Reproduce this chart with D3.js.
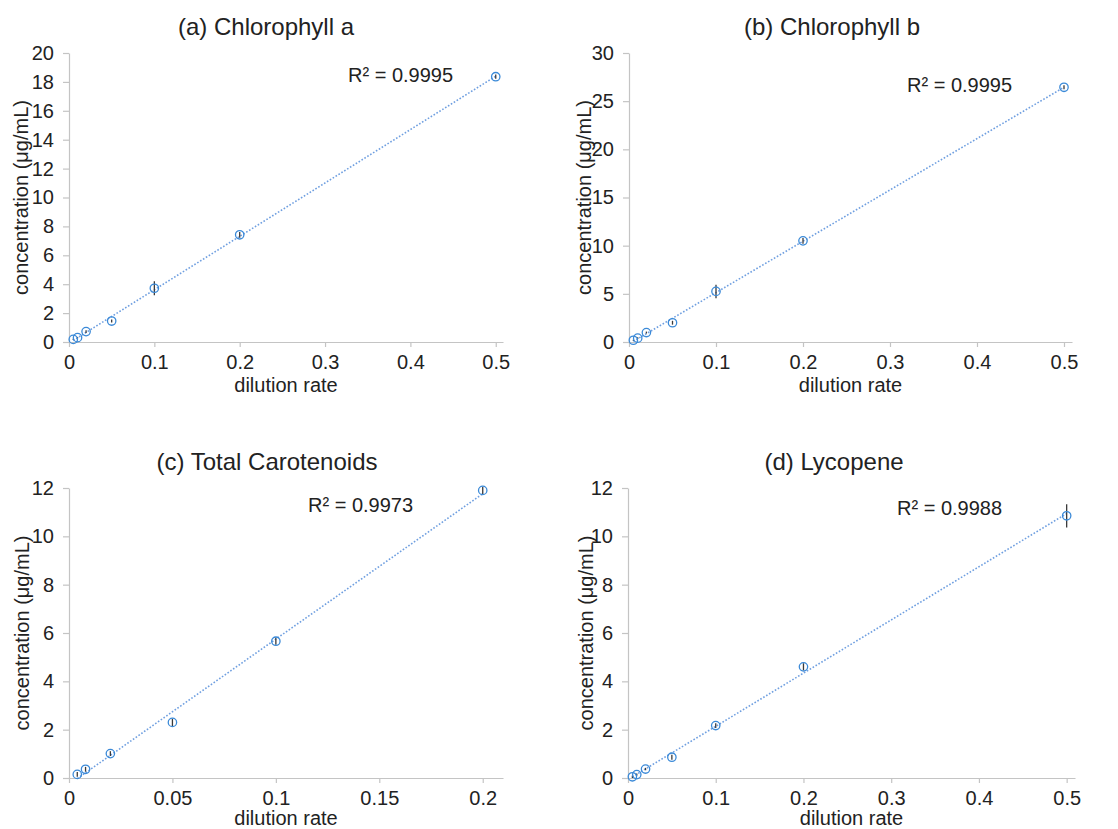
<!DOCTYPE html>
<html>
<head>
<meta charset="utf-8">
<script src="https://cdn.jsdelivr.net/npm/d3@7"></script>
<style>
  body { margin: 0; background: #fff; }
  text { font-family: "Liberation Sans", Arial, Helvetica, sans-serif; fill: #222; }
</style>
</head>
<body>
<div id="chart"></div>
<script>
// data
const titles = ["(a) Chlorophyll a", "(b) Chlorophyll b", "(c) Total Carotenoids", "(d) Lycopene"];
const r2Labels = ["R² = 0.9995", "R² = 0.9995", "R² = 0.9973", "R² = 0.9988"];

const xA = [0.005, 0.01, 0.02, 0.05, 0.1, 0.2, 0.5];
const yA = [0.18, 0.3, 0.72, 1.45, 3.72, 7.42, 18.36];
const eA = [0.05, 0.05, 0.1, 0.1, 0.48, 0.2, 0.15];

const xB = [0.005, 0.01, 0.02, 0.05, 0.1, 0.2, 0.5];
const yB = [0.18, 0.4, 0.98, 2.0, 5.25, 10.5, 26.44];
const eB = [0.05, 0.1, 0.1, 0.2, 0.7, 0.3, 0.2];

const xC = [0.004, 0.008, 0.02, 0.05, 0.1, 0.2];
const yC = [0.15, 0.36, 1.01, 2.3, 5.66, 11.9];
const eC = [0.1, 0.1, 0.1, 0.15, 0.15, 0.15];

const xD = [0.005, 0.01, 0.02, 0.05, 0.1, 0.2, 0.5];
const yD = [0.05, 0.14, 0.37, 0.86, 2.17, 4.6, 10.85];
const eD = [0.05, 0.05, 0.05, 0.1, 0.1, 0.15, 0.48];

const xTicksWide = [0, 0.1, 0.2, 0.3, 0.4, 0.5];
const xTicksNarrow = [0, 0.05, 0.1, 0.15, 0.2];
const yTicksA = [0, 2, 4, 6, 8, 10, 12, 14, 16, 18, 20];
const yTicksB = [0, 5, 10, 15, 20, 25, 30];
const yTicksC = [0, 2, 4, 6, 8, 10, 12];
const yTicksD = [0, 2, 4, 6, 8, 10, 12];

const width = 1118, height = 829;

// layout for each panel (plot box, label spots)
const panels = [
  { x: xA, y: yA, e: eA, xTicks: xTicksWide, yTicks: yTicksA, xMax: 0.5085,
    left: 69, right: 503, top: 53, bottom: 342, titleX: 266, titleY: 35, yLabelX: 21, xLabelDy: 50, r2X: 348, r2Y: 82 },
  { x: xB, y: yB, e: eB, xTicks: xTicksWide, yTicks: yTicksB, xMax: 0.5092,
    left: 629, right: 1072, top: 53, bottom: 342, titleX: 832, titleY: 35, yLabelX: 584, xLabelDy: 50, r2X: 907, r2Y: 92 },
  { x: xC, y: yC, e: eC, xTicks: xTicksNarrow, yTicks: yTicksC, xMax: 0.2098,
    left: 69, right: 503, top: 488, bottom: 778, titleX: 267, titleY: 470, yLabelX: 22, xLabelDy: 47, r2X: 308, r2Y: 512 },
  { x: xD, y: yD, e: eD, xTicks: xTicksWide, yTicks: yTicksD, xMax: 0.5095,
    left: 628, right: 1075, top: 488, bottom: 778, titleX: 834, titleY: 470, yLabelX: 586, xLabelDy: 47, r2X: 897, r2Y: 515 }
];

const svg = d3.select("#chart")
  .append("svg")
  .attr("width", width)
  .attr("height", height);

svg.append("rect").attr("width", width).attr("height", height).attr("fill", "#fff");

const fmt = d3.format("~g");

function linearFit(xs, ys) {
  const mx = d3.mean(xs), my = d3.mean(ys);
  let sxy = 0, sxx = 0;
  xs.forEach((x, i) => { sxy += (x - mx) * (ys[i] - my); sxx += (x - mx) * (x - mx); });
  const slope = sxy / sxx;
  return { slope, intercept: my - slope * mx };
}

panels.forEach((p, k) => {
  const g = svg.append("g");
  const points = p.x.map((x, i) => ({ x, y: p.y[i], e: p.e[i] }));

  const x = d3.scaleLinear().domain([0, p.xMax]).range([p.left, p.right]);
  const y = d3.scaleLinear().domain([0, d3.max(p.yTicks)]).range([p.bottom, p.top]);

  // axes
  const xAxis = g.append("g")
    .attr("transform", `translate(0,${p.bottom})`)
    .call(d3.axisBottom(x).tickValues(p.xTicks).tickFormat(fmt).tickSize(5).tickPadding(8).tickSizeOuter(0));
  const yAxis = g.append("g")
    .attr("transform", `translate(${p.left},0)`)
    .call(d3.axisLeft(y).tickValues(p.yTicks).tickFormat(fmt).tickSize(6).tickPadding(9).tickSizeOuter(0));

  [xAxis, yAxis].forEach(a => {
    a.select(".domain").attr("stroke", "#c4c4c4").attr("stroke-width", 1.2);
    a.selectAll(".tick line").attr("stroke", "#c4c4c4").attr("stroke-width", 1.2);
    a.selectAll(".tick text").attr("font-size", 20).attr("fill", "#222")
      .attr("font-family", '"Liberation Sans", Arial, sans-serif');
  });

  // trend line
  const fit = linearFit(p.x, p.y);
  const x0 = d3.min(p.x), x1 = d3.max(p.x);
  g.append("line")
    .attr("x1", x(x0)).attr("y1", y(fit.intercept + fit.slope * x0))
    .attr("x2", x(x1)).attr("y2", y(fit.intercept + fit.slope * x1))
    .attr("stroke", "#6f9fe0")
    .attr("stroke-width", 1.6)
    .attr("stroke-dasharray", "1.6,1.8");

  // error bars
  g.append("g")
    .selectAll("line")
    .data(points)
    .enter().append("line")
    .attr("x1", d => x(d.x)).attr("x2", d => x(d.x))
    .attr("y1", d => y(d.y - d.e)).attr("y2", d => y(d.y + d.e))
    .attr("stroke", "#3a3a3a")
    .attr("stroke-width", 1.3);

  // markers
  g.append("g")
    .selectAll("circle")
    .data(points)
    .enter().append("circle")
    .attr("cx", d => x(d.x))
    .attr("cy", d => y(d.y))
    .attr("r", 4.2)
    .attr("fill", "none")
    .attr("stroke", "#3b8ad8")
    .attr("stroke-width", 1.3);

  // texts
  g.append("text")
    .attr("x", p.titleX).attr("y", p.titleY)
    .attr("text-anchor", "middle")
    .attr("font-size", 24)
    .text(titles[k]);

  g.append("text")
    .attr("x", (p.left + p.right) / 2).attr("y", p.bottom + p.xLabelDy)
    .attr("text-anchor", "middle")
    .attr("font-size", 20)
    .text("dilution rate");

  g.append("text")
    .attr("transform", `translate(${p.yLabelX + 7},${(p.top + p.bottom) / 2}) rotate(-90)`)
    .attr("text-anchor", "middle")
    .attr("font-size", 20)
    .text("concentration (μg/mL)");

  g.append("text")
    .attr("x", p.r2X).attr("y", p.r2Y)
    .attr("font-size", 20)
    .text(r2Labels[k]);
});
</script>
</body>
</html>
